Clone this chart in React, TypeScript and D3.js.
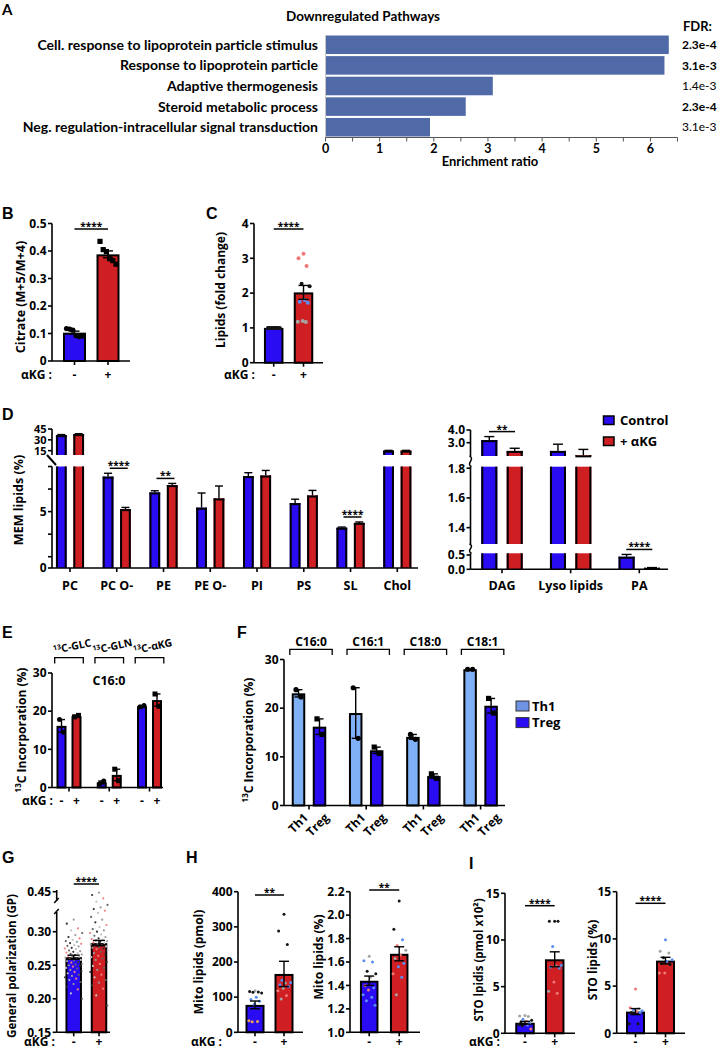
import React from 'react';
import * as d3 from 'd3';

// ---------------- DATA ----------------
// Panel A
const pathways = [
  'Cell. response to lipoprotein particle stimulus',
  'Response to lipoprotein particle',
  'Adaptive thermogenesis',
  'Steroid metabolic process',
  'Neg. regulation-intracellular signal transduction',
];
const enrichmentRatio = [6.33, 6.25, 3.08, 2.58, 1.92];
const fdrValues = ['2.3e-4', '3.1e-3', '1.4e-3', '2.3e-4', '3.1e-3'];
const fdrBold = [true, true, false, true, false];
const enrichTicks = [0, 1, 2, 3, 4, 5, 6];

// Panel B
const citrateCtrl = [0.118, 0.116, 0.112, 0.092, 0.089, 0.091];
const citrateAkg = [0.435, 0.405, 0.398, 0.372, 0.365, 0.352];
const citrateTicks = [0, 0.1, 0.2, 0.3, 0.4, 0.5];

// Panel C
const lipidFoldCtrl = [1, 1, 1, 1, 1, 1, 1, 1, 1, 1, 1];
const lipidFoldAkg = [3.13, 3.0, 2.78, 2.27, 2.2, 1.8, 1.75, 1.72, 1.2, 1.18, 1.17];
const lipidFoldAkgSrc = ['r', 'r', 'r', 'k', 'k', 'b', 'b', 'b', 'g', 'g', 'g'];
const lipidFoldMean = [1.0, 2.02];
const lipidFoldSem = [0.0, 0.2];
const lipidFoldTicks = [0, 1, 2, 3, 4];

// Panel D
const memClasses = ['PC', 'PC O-', 'PE', 'PE O-', 'PI', 'PS', 'SL', 'Chol'];
const memCtrl = [36.5, 8.1, 6.7, 5.35, 8.15, 5.75, 3.57, 15];
const memCtrlErr = [0.8, 0.3, 0.15, 1.3, 0.3, 0.35, 0.06, 0.4];
const memAkg = [37.9, 5.22, 7.35, 6.17, 8.2, 6.43, 4.0, 15];
const memAkgErr = [0.6, 0.15, 0.15, 1.1, 0.45, 0.45, 0.08, 0.4];
const memSig = ['', '****', '**', '', '', '', '****', ''];
const memTopTicks = [15, 30, 45];
const memLowTicks = [0, 1, 3, 5, 7, 9];
const memLowLabels = [0, 5];

const minorClasses = ['DAG', 'Lyso lipids', 'PA'];
const minorCtrl = [3.2, 2.35, 0.44];
const minorCtrlErr = [0.28, 0.53, 0.08];
const minorAkg = [2.35, 2.0, 0.05];
const minorAkgErr = [0.21, 0.47, 0.01];
const minorSig = ['**', '', '****'];
const minorTicksTop = [3.0, 4.0];
const minorTicksMid = [1.4, 1.6, 1.8];
const minorTicksLow = [0.0, 0.5];
const legendLabels = ['Control', '+ αKG'];

// Panel E
const tracerNames = ['GLC', 'GLN', 'αKG'];
const c16CtrlPts = [[17.8, 14.5], [1.0, 1.7], [21.1, 21.5]];
const c16AkgPts = [[18.5, 18.9], [4.8, 1.8], [24.5, 21.3]];
const incTicks = [0, 10, 20, 30];

// Panel F
const fattyAcids = ['C16:0', 'C16:1', 'C18:0', 'C18:1'];
const th1Pts = [[23.8, 22.3], [24.2, 13.8], [14.6, 13.6], [28.0, 28.0]];
const tregPts = [[17.8, 14.6], [12.0, 10.7], [6.5, 5.6], [22.0, 19.0]];
const cellTypes = ['Th1', 'Treg'];

// Panel G
const gpCtrl = [0.318, 0.312, 0.305, 0.302, 0.298, 0.295, 0.292, 0.29, 0.288, 0.286, 0.285, 0.283, 0.282, 0.28, 0.279,
  0.278, 0.276, 0.275, 0.274, 0.272, 0.271, 0.27, 0.269, 0.268, 0.267, 0.266, 0.265, 0.264, 0.263, 0.262, 0.261, 0.26,
  0.259, 0.258, 0.257, 0.256, 0.255, 0.254, 0.252, 0.251, 0.25, 0.249, 0.248, 0.246, 0.245, 0.243, 0.241, 0.24, 0.238,
  0.236, 0.234, 0.232, 0.23, 0.228, 0.225, 0.222, 0.218, 0.214, 0.208, 0.2];
const gpAkg = [0.445, 0.43, 0.41, 0.39, 0.37, 0.355, 0.345, 0.335, 0.328, 0.322, 0.318, 0.314, 0.31, 0.307, 0.304, 0.302,
  0.3, 0.298, 0.296, 0.294, 0.292, 0.29, 0.289, 0.288, 0.287, 0.286, 0.285, 0.284, 0.283, 0.282, 0.281, 0.28, 0.279,
  0.278, 0.277, 0.276, 0.275, 0.274, 0.272, 0.27, 0.268, 0.266, 0.264, 0.262, 0.26, 0.258, 0.255, 0.252, 0.249, 0.246,
  0.243, 0.24, 0.236, 0.232, 0.228, 0.224, 0.22, 0.215, 0.205, 0.19];
const gpMean = [0.262, 0.283];
const gpSem = [0.003, 0.004];
const gpTicks = [0.15, 0.2, 0.25, 0.3, 0.45];

// Panel H
const mitoPmolCtrl = [118, 116, 115, 114, 112, 100, 93, 88, 80, 33, 31, 30];
const mitoPmolCtrlSrc = ['g', 'k', 'k', 'k', 'k', 'b', 'b', 'b', 'b', 'o', 'o', 'o'];
const mitoPmolAkg = [336, 288, 250, 148, 142, 140, 135, 130, 125, 118, 105, 95];
const mitoPmolAkgSrc = ['k', 'k', 'k', 'b', 'b', 'g', 'b', 'b', 'g', 'r', 'r', 'g'];
const mitoPmolMean = [78, 166];
const mitoPmolSem = [11, 36];
const mitoPmolTicks = [0, 100, 200, 300, 400];

const mitoPctCtrl = [1.65, 1.61, 1.6, 1.52, 1.5, 1.47, 1.4, 1.38, 1.36, 1.32, 1.3, 1.27, 1.23];
const mitoPctCtrlSrc = ['g', 'b', 'b', 'k', 'k', 'g', 'r', 'b', 'r', 'b', 'b', 'b', 'b'];
const mitoPctAkg = [2.12, 1.88, 1.79, 1.74, 1.7, 1.66, 1.63, 1.59, 1.56, 1.5, 1.47, 1.32];
const mitoPctAkgSrc = ['k', 'k', 'b', 'r', 'g', 'r', 'g', 'b', 'b', 'r', 'b', 'g'];
const mitoPctMean = [1.44, 1.67];
const mitoPctSem = [0.04, 0.06];
const mitoPctTicks = [1.0, 1.2, 1.4, 1.6, 1.8, 2.0, 2.2];

// Panel I
const stoPmolCtrl = [1.9, 1.85, 1.8, 1.5, 1.4, 1.3, 1.2, 1.1, 1.0, 0.95, 0.9, 0.8, 0.45];
const stoPmolCtrlSrc = ['g', 'g', 'g', 'b', 'k', 'r', 'k', 'b', 'k', 'k', 'b', 'k', 'r'];
const stoPmolAkg = [12.0, 12.0, 12.0, 9.3, 7.3, 7.2, 7.1, 7.0, 5.5, 4.5, 4.3];
const stoPmolAkgSrc = ['k', 'k', 'k', 'b', 'b', 'g', 'b', 'b', 'r', 'g', 'r'];
const stoPmolMean = [1.13, 7.93];
const stoPmolSem = [0.15, 0.8];
const stoTicks = [0, 5, 10, 15];

const stoPctCtrl = [4.7, 2.7, 2.6, 2.5, 2.4, 2.3, 2.2, 2.2, 2.1, 1.0, 1.0];
const stoPctCtrlSrc = ['r', 'r', 'g', 'b', 'b', 'r', 'k', 'b', 'k', 'k', 'k'];
const stoPctAkg = [9.9, 8.7, 8.5, 8.0, 7.8, 7.6, 7.4, 7.3, 6.4, 6.4];
const stoPctAkgSrc = ['b', 'g', 'g', 'k', 'b', 'b', 'k', 'k', 'r', 'r'];
const stoPctMean = [2.3, 7.7];
const stoPctSem = [0.32, 0.35];

// ---------------- STYLE ----------------
const FONT = "'Open Sans', 'Liberation Sans', Arial, sans-serif";
const LFONT = "Lato, 'Open Sans', sans-serif";
const PFONT = "'Liberation Sans', Arial, sans-serif";
const BLUE = '#2a0cf2';
const RED = '#cf1f22';
const TH1 = '#80b1f6';
const SRC: Record<string, string> = { k: '#151515', g: '#a5a5a5', b: '#5b8ef5', r: '#f07878', o: '#f2a055' };
const GP_COLORS = ['#9a9a9a', '#333333', '#f08080', '#c2c2c2', '#666666'];
const SIGN_Y = 1046;

const mean = (a: number[]) => d3.mean(a) as number;
const sem = (a: number[]) => (a.length > 1 ? (d3.deviation(a) as number) / Math.sqrt(a.length) : 0);
const golden = (n: number, half: number) => d3.range(n).map((i) => (((i * 0.6180339887 + 0.5) % 1) * 2 - 1) * half);
const even = (n: number, half: number) => d3.range(n).map((i) => (n === 1 ? 0 : -half + (2 * half * i) / (n - 1)));

function Label({ x, y, children }: any) {
  return (
    <text x={x} y={y} fontFamily={PFONT} fontWeight={700} fontSize={16}>
      {children}
    </text>
  );
}

function YAxis({ x, scale, ticks, fmt, y0, y1, labels, fs = 12 }: any) {
  return (
    <g>
      <line x1={x} x2={x} y1={y0} y2={y1} stroke="#000" strokeWidth={1.6} />
      {ticks.map((t: number) => (
        <g key={t}>
          <line x1={x - 4} x2={x} y1={scale(t)} y2={scale(t)} stroke="#000" strokeWidth={1.6} />
          {(!labels || labels.includes(t)) && (
            <text x={x - 5.5} y={scale(t)} dy="0.36em" textAnchor="end" fontSize={fs} fontWeight={700} fontFamily={FONT}>
              {fmt ? fmt(t) : String(t)}
            </text>
          )}
        </g>
      ))}
    </g>
  );
}

function XAxis({ x0, x1, y, ticks }: any) {
  return (
    <g stroke="#000" strokeWidth={1.6}>
      <line x1={x0} x2={x1} y1={y} y2={y} />
      {ticks.map((t: number, i: number) => (
        <line key={i} x1={t} x2={t} y1={y} y2={y + 4} />
      ))}
    </g>
  );
}

function ErrBar({ cx, y, m, s, cap = 5, both = true }: any) {
  if (!s) return null;
  const yt = y(m + s);
  const yb = y(m - s);
  return (
    <g stroke="#000" strokeWidth={1.4}>
      <line x1={cx} x2={cx} y1={yt} y2={both ? yb : y(m)} />
      <line x1={cx - cap} x2={cx + cap} y1={yt} y2={yt} />
      {both && <line x1={cx - cap} x2={cx + cap} y1={yb} y2={yb} />}
    </g>
  );
}

function Sig({ x1, x2, y, text }: any) {
  return (
    <g>
      <line x1={x1} x2={x2} y1={y} y2={y} stroke="#000" strokeWidth={1.5} />
      <text x={(x1 + x2) / 2} y={y + 1} textAnchor="middle" fontSize={10} fontWeight={700} fontFamily={FONT}>
        {text}
      </text>
    </g>
  );
}

function RotLabel({ x, y, children, fs = 12 }: any) {
  return (
    <text transform={`translate(${x},${y}) rotate(-90)`} textAnchor="middle" dominantBaseline="central" fontSize={fs} fontWeight={700} fontFamily={FONT}>
      {children}
    </text>
  );
}

function SegBar({ x, w, yTop, yBot, fill, top }: any) {
  if (yBot - yTop <= 0) return null;
  return (
    <g>
      <rect x={x} y={yTop} width={w} height={yBot - yTop} fill={fill} />
      <line x1={x + 1} x2={x + 1} y1={yTop} y2={yBot} stroke="#000" strokeWidth={2} />
      <line x1={x + w - 1} x2={x + w - 1} y1={yTop} y2={yBot} stroke="#000" strokeWidth={2} />
      {top && <line x1={x} x2={x + w} y1={yTop + 1} y2={yTop + 1} stroke="#000" strokeWidth={2} />}
    </g>
  );
}

function Signs({ label, labelX, centers, y }: any) {
  return (
    <g fontFamily={FONT} fontWeight={700} fontSize={12}>
      {label && (
        <text x={labelX} y={y}>
          αKG :
        </text>
      )}
      {centers.map((c: number, i: number) => (
        <text key={i} x={c} y={y} textAnchor="middle">
          {i % 2 === 0 ? '-' : '+'}
        </text>
      ))}
    </g>
  );
}

function Pts({ cx, y, vals, srcs, shape, r, half, mode, color }: any) {
  const offs = mode === 'even' ? even(vals.length, half) : golden(vals.length, half);
  return (
    <g>
      {vals.map((v: number, i: number) => {
        const fill = color ? color(i) : srcs ? SRC[srcs[i]] : '#000';
        const px = cx + offs[i];
        const py = y(v);
        return shape === 'square' ? (
          <rect key={i} x={px - r} y={py - r} width={2 * r} height={2 * r} fill={fill} />
        ) : (
          <circle key={i} cx={px} cy={py} r={r} fill={fill} />
        );
      })}
    </g>
  );
}

function TwoBar(p: any) {
  const { axisX, axisEnd, y, ticks, fmt, yAxisTop, base, centers, barW, means, sems, pts, srcs, shapes, r, half, mode,
    sigText, sigY, ylab, ylabX, ylabY, ylabFs, signY, signLabelX, noYAxis, color, cap } = p;
  return (
    <g>
      {!noYAxis && <YAxis x={axisX} scale={y} ticks={ticks} fmt={fmt} y0={base} y1={yAxisTop} />}
      {centers.map((c: number, i: number) => (
        <g key={i}>
          <rect x={c - barW / 2 + 1} y={y(means[i]) + 1} width={barW - 2} height={base - y(means[i]) - 1} fill={i === 0 ? BLUE : RED} stroke="#000" strokeWidth={2} />
          <Pts cx={c} y={y} vals={pts[i]} srcs={srcs ? srcs[i] : null} shape={shapes[i]} r={r} half={half} mode={mode} color={color} />
          <ErrBar cx={c} y={y} m={means[i]} s={sems[i]} cap={cap || 5} />
        </g>
      ))}
      <XAxis x0={axisX} x1={axisEnd} y={base} ticks={centers} />
      <Sig x1={centers[0]} x2={centers[1]} y={sigY} text={sigText} />
      <RotLabel x={ylabX} y={ylabY} fs={ylabFs || 12}>{ylab}</RotLabel>
      <Signs label={signLabelX !== undefined} labelX={signLabelX} centers={centers} y={signY} />
    </g>
  );
}

// ---------------- PANELS ----------------
function PanelA() {
  const x = d3.scaleLinear().domain([0, 6.5]).range([325.5, 677.5]);
  const y = d3.scaleBand<string>().domain(pathways).range([35.5, 136.5]).paddingInner(0.1);
  const minor = d3.range(0, 6.51, 0.5);
  return (
    <g>
      <text x={2} y={15} fontFamily={LFONT} fontWeight={700} fontSize={15}>A</text>
      <text x={363} y={21} textAnchor="middle" fontFamily={LFONT} fontWeight={700} fontSize={13.5}>Downregulated Pathways</text>
      <text x={683} y={31} fontFamily={LFONT} fontWeight={700} fontSize={13}>FDR:</text>
      <line x1={x(0)} x2={x(0)} y1={35} y2={137.5} stroke="#c8c8c8" strokeWidth={1} />
      {pathways.map((p, i) => {
        const cy = (y(p) as number) + y.bandwidth() / 2;
        return (
          <g key={p}>
            <rect x={x(0) + 0.5} y={y(p)} width={x(enrichmentRatio[i]) - x(0)} height={y.bandwidth()} fill="#4f6aa6" />
            <text x={318} y={cy} dy="0.35em" textAnchor="end" fontFamily={LFONT} fontWeight={700} fontSize={14}>{p}</text>
            <text x={682} y={cy} dy="0.35em" fontFamily={LFONT} fontWeight={fdrBold[i] ? 700 : 400} fontSize={12}>{fdrValues[i]}</text>
          </g>
        );
      })}
      <line x1={x(0)} x2={x(6.5)} y1={137.5} y2={137.5} stroke="#555" strokeWidth={1} />
      {minor.map((t) => (
        <line key={t} x1={x(t)} x2={x(t)} y1={137.5} y2={141.5} stroke="#555" strokeWidth={1} />
      ))}
      {enrichTicks.map((t) => (
        <text key={t} x={x(t)} y={152.5} textAnchor="middle" fontFamily={LFONT} fontWeight={700} fontSize={12.5}>{t}</text>
      ))}
      <text x={490} y={166} textAnchor="middle" fontFamily={LFONT} fontWeight={700} fontSize={13}>Enrichment ratio</text>
    </g>
  );
}

function PanelB() {
  const y = d3.scaleLinear().domain([0, 0.5]).range([361, 223.5]);
  const g = [citrateCtrl, citrateAkg];
  return (
    <g>
      <Label x={2} y={219}>B</Label>
      <TwoBar axisX={52} axisEnd={130} y={y} ticks={citrateTicks} yAxisTop={223.5} base={361} centers={[74.5, 108]} barW={23}
        means={g.map(mean)} sems={g.map(sem)} pts={g} shapes={['circle', 'square']} r={2.6} half={8} mode="even"
        sigText="****" sigY={229} ylab="Citrate (M+5/M+4)" ylabFs={12.5} ylabX={20} ylabY={297} signY={379} signLabelX={21} />
    </g>
  );
}

function PanelC() {
  const y = d3.scaleLinear().domain([0, 4]).range([362.7, 223.5]);
  return (
    <g>
      <Label x={206} y={219}>C</Label>
      <TwoBar axisX={254} axisEnd={323} y={y} ticks={lipidFoldTicks} yAxisTop={223.5} base={362.7} centers={[273.7, 303.5]} barW={19.5}
        means={lipidFoldMean} sems={lipidFoldSem} pts={[lipidFoldCtrl, lipidFoldAkg]} srcs={[lipidFoldCtrl.map(() => 'k'), lipidFoldAkgSrc]}
        shapes={['circle', 'circle']} r={2} half={6.5} sigText="****" sigY={229} ylab="Lipids (fold change)" ylabX={220} ylabY={290}
        signY={379} signLabelX={224} />
    </g>
  );
}

function PanelD() {
  const x = d3.scalePoint<string>().domain(memClasses).range([70, 397.3]);
  const yLow = d3.scaleLinear().domain([0, 9]).range([568, 466.5]);
  const yTop = d3.scaleLinear().domain([9, 45]).range([455, 429]);
  const bw = 10.7;
  const off = 8.7;
  const els: any[] = [];
  memClasses.forEach((c, i) => {
    const specs: [number, number, string, number][] = [
      [memCtrl[i], memCtrlErr[i], BLUE, -off],
      [memAkg[i], memAkgErr[i], RED, off],
    ];
    specs.forEach(([v, e, col, o], j) => {
      const cx = (x(c) as number) + o;
      els.push(<SegBar key={`l${i}${j}`} x={cx - bw / 2} w={bw} yTop={v <= 9 ? yLow(v) : yLow(9)} yBot={568} fill={col} top={v <= 9} />);
      if (v > 9) els.push(<SegBar key={`t${i}${j}`} x={cx - bw / 2} w={bw} yTop={yTop(v)} yBot={455} fill={col} top />);
      els.push(<ErrBar key={`e${i}${j}`} cx={cx} y={v > 9 ? yTop : yLow} m={v} s={e} cap={4} both={false} />);
    });
    if (memSig[i]) {
      const top = Math.max(memCtrl[i] + memCtrlErr[i], memAkg[i] + memAkgErr[i]);
      els.push(<Sig key={`s${i}`} x1={(x(c) as number) - 7} x2={(x(c) as number) + 11} y={yLow(top) - 5} text={memSig[i]} />);
    }
  });

  // right chart
  const x2 = d3.scalePoint<string>().domain(minorClasses).range([502, 639.3]);
  const segs = [
    { d: [1.95, 4.0], r: [456, 430] },
    { d: [1.29, 1.81], r: [544, 466.7] },
    { d: [0, 0.56], r: [569.3, 553.3] },
  ].map((s) => ({ ...s, y: d3.scaleLinear().domain(s.d).range(s.r) }));
  const segOf = (v: number) => segs.find((s) => v >= s.d[0] && v <= s.d[1]) || segs[0];
  const bw2 = 16;
  const off2 = 12.7;
  const els2: any[] = [];
  minorClasses.forEach((c, i) => {
    const specs: [number, number, string, number][] = [
      [minorCtrl[i], minorCtrlErr[i], BLUE, -off2],
      [minorAkg[i], minorAkgErr[i], RED, off2],
    ];
    specs.forEach(([v, e, col, o], j) => {
      const cx = (x2(c) as number) + o;
      segs.forEach((s, k) => {
        if (v > s.d[0]) {
          els2.push(<SegBar key={`b${i}${j}${k}`} x={cx - bw2 / 2} w={bw2} yTop={s.y(Math.min(v, s.d[1]))} yBot={s.r[0]} fill={col} top={v <= s.d[1]} />);
        }
      });
      els2.push(<ErrBar key={`e${i}${j}`} cx={cx} y={segOf(v).y} m={v} s={e} cap={5} both={false} />);
    });
    if (minorSig[i]) {
      const top = Math.max(minorCtrl[i] + minorCtrlErr[i], minorAkg[i] + minorAkgErr[i]);
      const cx = x2(c) as number;
      els2.push(<Sig key={`s${i}`} x1={cx - 13} x2={cx + 13} y={segOf(top).y(top) - 5} text={minorSig[i]} />);
    }
  });
  const ax = 470.5;
  const wig = (ya: number, yb: number) => `M${ax - 1},${ya} C${ax + 5},${ya + 3} ${ax - 5},${yb - 3} ${ax + 1},${yb}`;

  return (
    <g>
      <Label x={2} y={420}>D</Label>
      {/* left axis */}
      <YAxis x={52} scale={yTop} ticks={memTopTicks} y0={455} y1={429} fs={11} />
      <YAxis x={52} scale={yLow} ticks={memLowTicks} labels={memLowLabels} y0={568} y1={466.5} />
      <line x1={47} x2={56} y1={455} y2={465} stroke="#000" strokeWidth={2} />
      {els}
      <XAxis x0={52} x1={418} y={568} ticks={memClasses.map((c) => x(c))} />
      {memClasses.map((c) => (
        <text key={c} x={x(c)} y={590} textAnchor="middle" fontFamily={FONT} fontWeight={700} fontSize={12.5}>{c}</text>
      ))}
      <RotLabel x={18} y={500} fs={12.5}>MEM lipids (%)</RotLabel>

      {/* right axis */}
      <YAxis x={ax} scale={segs[0].y} ticks={minorTicksTop} fmt={d3.format('.1f')} y0={456} y1={430} />
      <YAxis x={ax} scale={segs[1].y} ticks={minorTicksMid} fmt={d3.format('.1f')} y0={544} y1={466.7} />
      <YAxis x={ax} scale={segs[2].y} ticks={minorTicksLow} fmt={d3.format('.1f')} y0={569.3} y1={553.3} />
      <path d={wig(456, 466.7)} fill="none" stroke="#000" strokeWidth={1.5} />
      <path d={wig(544, 553.3)} fill="none" stroke="#000" strokeWidth={1.5} />
      {els2}
      <XAxis x0={ax} x1={668} y={569.3} ticks={minorClasses.map((c) => x2(c))} />
      {minorClasses.map((c) => (
        <text key={c} x={x2(c)} y={590} textAnchor="middle" fontFamily={FONT} fontWeight={700} fontSize={12.5}>{c}</text>
      ))}

      {/* legend */}
      {legendLabels.map((l, i) => (
        <g key={l}>
          <rect x={603.5} y={416 + i * 21} width={10.5} height={8.5} fill={i === 0 ? BLUE : RED} stroke="#000" strokeWidth={1.5} />
          <text x={620} y={420.3 + i * 21} dy="0.36em" fontFamily={FONT} fontWeight={700} fontSize={13}>{l}</text>
        </g>
      ))}
    </g>
  );
}

function PanelE() {
  const y = d3.scaleLinear().domain([0, 30]).range([787.5, 673]);
  const x = d3.scalePoint<string>().domain(tracerNames).range([69, 149.5]);
  const off = 7.5;
  const bw = 10;
  return (
    <g>
      <Label x={2} y={638}>E</Label>
      <YAxis x={52} scale={y} ticks={incTicks} y0={787.5} y1={673} />
      {tracerNames.map((t, i) => {
        const gc = x(t) as number;
        const groups = [c16CtrlPts[i], c16AkgPts[i]];
        return (
          <g key={t}>
            <path d={`M${gc - 14.3},663.5 V657.7 H${gc + 14.3} V663.5`} fill="none" stroke="#000" strokeWidth={1.3} />
            <text transform={`translate(${gc + 4},650) rotate(-12)`} textAnchor="middle" fontFamily={FONT} fontWeight={700} fontSize={10.5}>
              <tspan fontSize={7} dy={-3.5}>13</tspan>
              <tspan dy={3.5}>C-{t}</tspan>
            </text>
            {groups.map((pts, j) => {
              const cx = gc + (j === 0 ? -off : off);
              const m = mean(pts);
              return (
                <g key={j}>
                  <rect x={cx - bw / 2 + 1} y={y(m) + 1} width={bw - 2} height={787.5 - y(m) - 1} fill={j === 0 ? BLUE : RED} stroke="#000" strokeWidth={2} />
                  <Pts cx={cx} y={y} vals={pts} shape={j === 0 ? 'circle' : 'square'} r={2.5} half={2} mode="even" />
                  <ErrBar cx={cx} y={y} m={m} s={sem(pts)} cap={3.5} />
                </g>
              );
            })}
          </g>
        );
      })}
      <XAxis x0={52} x1={163} y={787.5} ticks={tracerNames.map((t) => x(t))} />
      <text x={109} y={685} textAnchor="middle" fontFamily={FONT} fontWeight={700} fontSize={12.5}>C16:0</text>
      <RotLabel x={21} y={730}>
        <tspan fontSize={8} dy={-4}>13</tspan>
        <tspan dy={4}>C Incorporation (%)</tspan>
      </RotLabel>
      <text x={22} y={805} fontFamily={FONT} fontWeight={700} fontSize={12}>αKG :</text>
      <Signs centers={tracerNames.flatMap((t) => [(x(t) as number) - off, (x(t) as number) + off])} y={805} />
    </g>
  );
}

function PanelF() {
  const y = d3.scaleLinear().domain([0, 30]).range([805.5, 659.5]);
  const x = d3.scalePoint<string>().domain(fattyAcids).range([309, 480.6]);
  const off = 10.5;
  const bw = 13.5;
  return (
    <g>
      <Label x={237} y={638}>F</Label>
      <YAxis x={284} scale={y} ticks={incTicks} y0={805.5} y1={659.5} />
      {fattyAcids.map((fa, i) => {
        const gc = x(fa) as number;
        const groups = [th1Pts[i], tregPts[i]];
        return (
          <g key={fa}>
            <path d={`M${gc + 2 - 21.2},655 V649.3 H${gc + 2 + 21.2} V655`} fill="none" stroke="#000" strokeWidth={1.3} />
            <text x={gc + 2} y={646} textAnchor="middle" fontFamily={FONT} fontWeight={700} fontSize={12}>{fa}</text>
            {groups.map((pts, j) => {
              const cx = gc + (j === 0 ? -off : off);
              const m = mean(pts);
              return (
                <g key={j}>
                  <rect x={cx - bw / 2 + 1} y={y(m) + 1} width={bw - 2} height={805.5 - y(m) - 1} fill={j === 0 ? TH1 : BLUE} stroke="#000" strokeWidth={2} />
                  <Pts cx={cx} y={y} vals={pts} shape={j === 0 ? 'circle' : 'square'} r={2.6} half={2.5} mode="even" />
                  <ErrBar cx={cx} y={y} m={m} s={sem(pts)} cap={4} />
                  <text transform={`translate(${cx + 3},811) rotate(-45)`} textAnchor="end" dominantBaseline="hanging" fontFamily={FONT} fontWeight={700} fontSize={12}>
                    {cellTypes[j]}
                  </text>
                </g>
              );
            })}
          </g>
        );
      })}
      <XAxis x0={284} x1={505} y={805.5} ticks={fattyAcids.map((f) => x(f))} />
      <RotLabel x={248} y={740}>
        <tspan fontSize={8} dy={-4}>13</tspan>
        <tspan dy={4}>C Incorporation (%)</tspan>
      </RotLabel>
      {cellTypes.map((c, i) => (
        <g key={c}>
          <rect x={516} y={701 + i * 16.6} width={13} height={10} fill={i === 0 ? '#6f93e3' : BLUE} stroke="#333" strokeWidth={1} />
          <text x={532} y={706 + i * 16.6} dy="0.36em" fontFamily={FONT} fontWeight={700} fontSize={13}>{c}</text>
        </g>
      ))}
    </g>
  );
}

function PanelG() {
  const y = d3.scaleLinear().domain([0.15, 0.33, 0.45]).range([1032.3, 911.6, 891.7]);
  const ax = 56.7;
  return (
    <g>
      <Label x={2} y={863}>G</Label>
      <line x1={ax} x2={ax} y1={1032.3} y2={912} stroke="#000" strokeWidth={1.6} />
      <line x1={ax} x2={ax} y1={901} y2={890} stroke="#000" strokeWidth={1.6} />
      <line x1={ax - 2.5} x2={ax + 2} y1={914} y2={909} stroke="#000" strokeWidth={1.5} />
      <line x1={ax - 2.5} x2={ax + 2} y1={903} y2={898} stroke="#000" strokeWidth={1.5} />
      {gpTicks.map((t) => (
        <g key={t}>
          <line x1={ax - 4} x2={ax} y1={y(t)} y2={y(t)} stroke="#000" strokeWidth={1.6} />
          <text x={ax - 5.5} y={y(t)} dy="0.36em" textAnchor="end" fontSize={12} fontWeight={700} fontFamily={FONT}>{d3.format('.2f')(t)}</text>
        </g>
      ))}
      <TwoBar noYAxis axisX={ax} axisEnd={110} y={y} base={1032.3} centers={[73.7, 99]} barW={16.5}
        means={gpMean} sems={gpSem} pts={[gpCtrl, gpAkg]} shapes={['circle', 'circle']} r={1.1} half={9}
        color={(i: number) => GP_COLORS[i % GP_COLORS.length]} sigText="****" sigY={884} ylab="General polarization (GP)"
        ylabFs={11.5} ylabX={11} ylabY={966} signY={SIGN_Y} signLabelX={24} cap={6} />
    </g>
  );
}

function PanelH() {
  const y1 = d3.scaleLinear().domain([0, 400]).range([1032.3, 891.7]);
  const y2 = d3.scaleLinear().domain([1.0, 2.2]).range([1032.3, 891.7]);
  return (
    <g>
      <Label x={186} y={863}>H</Label>
      <TwoBar axisX={238} axisEnd={303} y={y1} ticks={mitoPmolTicks} yAxisTop={891.7} base={1032.3} centers={[255, 284]} barW={19}
        means={mitoPmolMean} sems={mitoPmolSem} pts={[mitoPmolCtrl, mitoPmolAkg]} srcs={[mitoPmolCtrlSrc, mitoPmolAkgSrc]}
        shapes={['circle', 'circle']} r={1.5} half={7} sigText="**" sigY={895} ylab="Mito lipids (pmol)" ylabX={198}
        ylabY={962} signY={SIGN_Y} signLabelX={191} />
      <TwoBar axisX={350} axisEnd={420} y={y2} ticks={mitoPctTicks} fmt={d3.format('.1f')} yAxisTop={891.7} base={1032.3}
        centers={[369.2, 399.2]} barW={18.5} means={mitoPctMean} sems={mitoPctSem} pts={[mitoPctCtrl, mitoPctAkg]}
        srcs={[mitoPctCtrlSrc, mitoPctAkgSrc]} shapes={['circle', 'circle']} r={1.5} half={7} sigText="**" sigY={890}
        ylab="Mito lipids (%)" ylabX={318.5} ylabY={957} signY={SIGN_Y} />
    </g>
  );
}

function PanelI() {
  const y1 = d3.scaleLinear().domain([0, 15]).range([1033.3, 893.3]);
  const y2 = d3.scaleLinear().domain([0, 15]).range([1033.3, 891.7]);
  return (
    <g>
      <Label x={469} y={869}>I</Label>
      <TwoBar axisX={505} axisEnd={575} y={y1} ticks={stoTicks} yAxisTop={893.3} base={1033.3} centers={[525, 554.7]} barW={19.5}
        means={stoPmolMean} sems={stoPmolSem} pts={[stoPmolCtrl, stoPmolAkg]} srcs={[stoPmolCtrlSrc, stoPmolAkgSrc]}
        shapes={['circle', 'circle']} r={1.5} half={7} sigText="****" sigY={905.7} ylab="STO lpidis (pmol x10²)"
        ylabFs={11.5} ylabX={478} ylabY={960} signY={SIGN_Y} signLabelX={469} />
      <TwoBar axisX={616.7} axisEnd={685} y={y2} ticks={stoTicks} yAxisTop={891.7} base={1033.3} centers={[635.5, 665.5]}
        barW={19} means={stoPctMean} sems={stoPctSem} pts={[stoPctCtrl, stoPctAkg]} srcs={[stoPctCtrlSrc, stoPctAkgSrc]}
        shapes={['circle', 'circle']} r={1.5} half={7} sigText="****" sigY={903.3} ylab="STO lipids (%)" ylabX={592}
        ylabY={960} signY={SIGN_Y} />
    </g>
  );
}

export default function App() {
  return (
    <div style={{ position: 'absolute', left: 0, top: 0 }}>
      <svg width={720} height={1050} style={{ display: 'block', background: '#fff' }}>
        <rect width={720} height={1050} fill="#fff" />
        <PanelA />
        <PanelB />
        <PanelC />
        <PanelD />
        <PanelE />
        <PanelF />
        <PanelG />
        <PanelH />
        <PanelI />
      </svg>
    </div>
  );
}
